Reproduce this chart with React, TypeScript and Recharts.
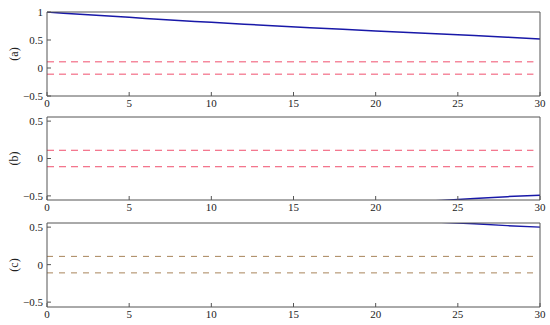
import { LineChart, Line, XAxis, YAxis } from 'recharts';

// x positions for the sampled curves
const xA = [0, 1, 2, 3, 4, 5, 6, 7, 8, 9, 10, 12, 14, 16, 18, 20, 22, 24, 26, 28, 30];
const curveA = [1.0, 0.978, 0.958, 0.94, 0.922, 0.905, 0.886, 0.868, 0.85, 0.832, 0.815, 0.782, 0.75, 0.72, 0.69, 0.662, 0.635, 0.608, 0.58, 0.55, 0.52];

const xB = [22, 23, 24, 26, 28, 30];
const curveB = [-0.59, -0.575, -0.56, -0.535, -0.51, -0.49];

const xC = [24, 25, 26, 28, 30];
const curveC = [0.565, 0.555, 0.545, 0.52, 0.5];

// dashed threshold band
const bandX = [0, 29.6];
const bandUpper = [0.11, 0.11];
const bandLower = [-0.11, -0.11];

const xTicks = [0, 5, 10, 15, 20, 25, 30];
const yTicksA = [-0.5, 0, 0.5, 1];
const yTicksBC = [-0.5, 0, 0.5];

const zip = (xs: number[], ys: number[]) => xs.map((x, i) => ({ x, y: ys[i] }));

const FONT = '"Liberation Serif", "DejaVu Serif", serif';
const AXIS = '#555';
const fmt = (v: number) => String(v).replace('-', '\u2212');

interface PanelProps {
  top: number;
  height: number;
  tag: string;
  domain: [number, number];
  yTicks: number[];
  curve: { x: number; y: number }[];
  bandColor: string;
  bandDash: string;
}

function Panel({ top, height, tag, domain, yTicks, curve, bandColor, bandDash }: PanelProps) {
  const tickStyle = { fontSize: 11, fill: '#222', fontFamily: FONT };
  return (
    <div style={{ position: 'absolute', left: 0, top, width: 550, height }}>
      <LineChart width={550} height={height} margin={{ top: 11, right: 9, bottom: 0, left: 7 }}>
        <XAxis
          xAxisId="b"
          type="number"
          dataKey="x"
          domain={[0, 30]}
          ticks={xTicks}
          height={18}
          tickSize={-4}
          tickMargin={7}
          stroke={AXIS}
          tick={tickStyle}
        />
        <XAxis
          xAxisId="t"
          orientation="top"
          type="number"
          dataKey="x"
          domain={[0, 30]}
          ticks={xTicks}
          height={1}
          tickSize={-4}
          tick={false}
          stroke={AXIS}
        />
        <YAxis
          yAxisId="l"
          type="number"
          domain={domain}
          ticks={yTicks}
          allowDataOverflow
          width={40}
          tickSize={-4}
          tickMargin={8}
          stroke={AXIS}
          tick={tickStyle}
          tickFormatter={fmt}
          label={{
            value: tag,
            content: (p: any) => {
              const vb = p.viewBox || {};
              const cy = vb.y + vb.height / 2;
              return (
                <text
                  x={14}
                  y={cy}
                  transform={`rotate(-90 14 ${cy})`}
                  textAnchor="middle"
                  dominantBaseline="central"
                  fontSize={12}
                  fontFamily={FONT}
                  fill="#222"
                >
                  {tag}
                </text>
              );
            },
          }}
        />
        <YAxis
          yAxisId="r"
          orientation="right"
          type="number"
          domain={domain}
          ticks={yTicks}
          allowDataOverflow
          width={1}
          tickSize={-4}
          tick={false}
          stroke={AXIS}
        />
        <Line
          xAxisId="b"
          yAxisId="l"
          data={zip(bandX, bandUpper)}
          dataKey="y"
          stroke={bandColor}
          strokeDasharray={bandDash}
          strokeWidth={1}
          dot={false}
          isAnimationActive={false}
        />
        <Line
          xAxisId="b"
          yAxisId="l"
          data={zip(bandX, bandLower)}
          dataKey="y"
          stroke={bandColor}
          strokeDasharray={bandDash}
          strokeWidth={1}
          dot={false}
          isAnimationActive={false}
        />
        <Line
          xAxisId="b"
          yAxisId="l"
          data={curve}
          dataKey="y"
          stroke="#1818a8"
          strokeWidth={1.5}
          dot={false}
          isAnimationActive={false}
        />
      </LineChart>
    </div>
  );
}

export default function App() {
  return (
    <div style={{ position: 'fixed', left: 0, top: 0, width: 550, height: 325, background: '#fff' }}>
      <Panel
        top={0}
        height={114}
        tag="(a)"
        domain={[-0.5, 1]}
        yTicks={yTicksA}
        curve={zip(xA, curveA)}
        bandColor="#f0506e"
        bandDash="7 5"
      />
      <Panel
        top={105}
        height={113}
        tag="(b)"
        domain={[-0.555, 0.555]}
        yTicks={yTicksBC}
        curve={zip(xB, curveB)}
        bandColor="#f0506e"
        bandDash="7 5"
      />
      <Panel
        top={211}
        height={114}
        tag="(c)"
        domain={[-0.565, 0.555]}
        yTicks={yTicksBC}
        curve={zip(xC, curveC)}
        bandColor="#a8845a"
        bandDash="6 6"
      />
    </div>
  );
}
